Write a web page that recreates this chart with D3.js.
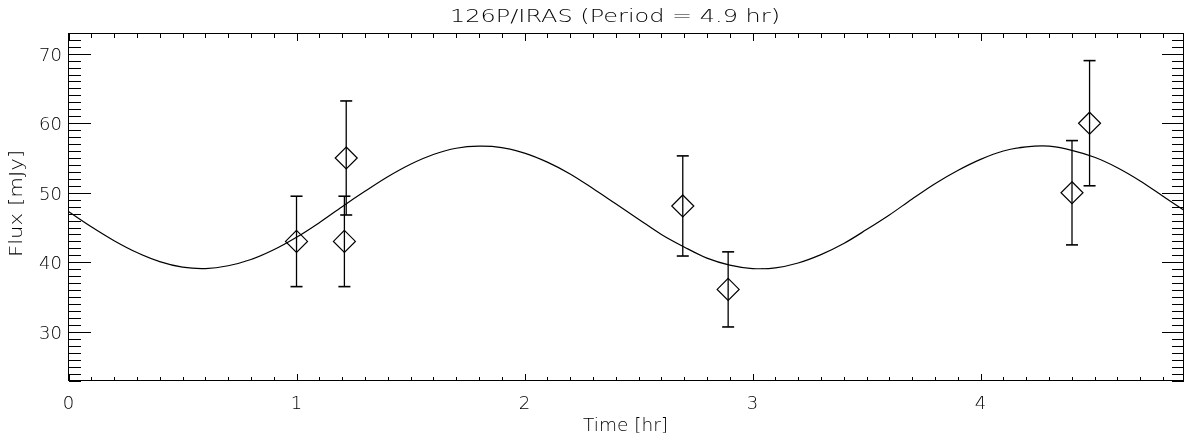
<!DOCTYPE html>
<html>
<head>
<meta charset="utf-8">
<script src="https://cdn.jsdelivr.net/npm/d3@7"></script>
<style>
  html, body { margin: 0; padding: 0; background: #fff; }
  svg { display: block; will-change: transform; }
  text { font-family: "DejaVu Sans", sans-serif; font-weight: 200; fill: #000; -webkit-font-smoothing: antialiased; }
</style>
</head>
<body>
<svg id="chart" width="1184" height="441"></svg>
<script>
// ---- data ----
const obsTime  = [1.0, 1.21, 1.218, 2.694, 2.893, 4.401, 4.478];
const obsFlux  = [43.0, 43.0, 55.0, 48.1, 36.1, 50.0, 60.0];
const obsErr   = [6.5, 6.5, 8.2, 7.2, 5.4, 7.5, 9.0];
const fitTime  = [0.0,0.1,0.2,0.3,0.4,0.5,0.6,0.7,0.8,0.9,1.0,1.1,1.2,1.3,1.4,1.5,1.6,1.7,1.8,1.9,
                  2.0,2.1,2.2,2.3,2.4,2.5,2.6,2.7,2.8,2.9,3.0,3.1,3.2,3.3,3.4,3.5,3.6,3.7,3.8,3.9,
                  4.0,4.1,4.2,4.3,4.4,4.5,4.6,4.7,4.8,4.9];
const fitFlux  = [47.3,45.1,43.1,41.4,40.1,39.3,39.1,39.5,40.4,41.8,43.6,45.7,48.0,50.2,52.3,54.1,55.5,56.4,56.7,56.5,
                  55.7,54.4,52.7,50.6,48.4,46.2,44.0,42.2,40.6,39.6,39.1,39.2,39.9,41.1,42.7,44.7,46.8,49.1,51.3,53.2,
                  54.8,56.0,56.6,56.7,56.1,55.1,53.6,51.7,49.5,47.3];
const xMajorTicks = [0, 1, 2, 3, 4];
const yMajorTicks = [30, 40, 50, 60, 70];
const titleText = "126P/IRAS (Period = 4.9 hr)";
const xLabel = "Time [hr]";
const yLabel = "Flux [mJy]";

// ---- layout ----
const L = 68.5, R = 1183.5, T = 33.5, B = 380.5;
const svg = d3.select("#chart");
const x = d3.scaleLinear().domain([0, 4.89]).range([L, R]);
const y = d3.scaleLinear().domain([23.0, 72.9]).range([B, T]);

const g = svg.append("g").attr("shape-rendering", "crispEdges");
// frame
g.append("rect").attr("x", L).attr("y", T).attr("width", R - L).attr("height", B - T)
  .attr("fill", "none").attr("stroke", "#000").attr("stroke-width", 1);

// x ticks (bottom & top)
const xMinor = d3.range(0, 49).map(i => i / 10).filter(v => v <= 4.89);
xMinor.forEach(v => {
  const isMajor = Math.abs(v - Math.round(v)) < 1e-9;
  const len = isMajor ? 7 : 4;
  const px = Math.round(x(v)) + 0.5;
  g.append("line").attr("x1", px).attr("x2", px).attr("y1", B).attr("y2", B - len).attr("stroke", "#000");
  g.append("line").attr("x1", px).attr("x2", px).attr("y1", T).attr("y2", T + len).attr("stroke", "#000");
});
// y ticks (left & right)
d3.range(23, 73).forEach(v => {
  const isMajor = v % 10 === 0;
  const len = isMajor ? 22 : 12;
  const py = Math.round(y(v)) + 0.5;
  g.append("line").attr("x1", L).attr("x2", L + len).attr("y1", py).attr("y2", py).attr("stroke", "#000");
  g.append("line").attr("x1", R).attr("x2", R - len).attr("y1", py).attr("y2", py).attr("stroke", "#000");
});

// tick labels
svg.selectAll(".xl").data(xMajorTicks).enter().append("text")
  .attr("x", d => x(d)).attr("y", 409).attr("text-anchor", "middle")
  .attr("font-size", 18).text(d => d);
svg.selectAll(".yl").data(yMajorTicks).enter().append("text")
  .attr("x", 62).attr("y", d => y(d) + 7).attr("text-anchor", "end")
  .attr("font-size", 18).text(d => d);

// titles
svg.append("text").attr("x", 450).attr("y", 22).attr("font-size", 18)
  .attr("textLength", 330).attr("lengthAdjust", "spacingAndGlyphs").text(titleText);
svg.append("text").attr("x", 583).attr("y", 431).attr("font-size", 17)
  .attr("textLength", 85).attr("lengthAdjust", "spacingAndGlyphs").text(xLabel);
svg.append("text").attr("transform", "translate(22,257) rotate(-90)").attr("font-size", 17)
  .attr("textLength", 107).attr("lengthAdjust", "spacingAndGlyphs").text(yLabel);

// clip
svg.append("clipPath").attr("id", "clip").append("rect")
  .attr("x", L).attr("y", T).attr("width", R - L).attr("height", B - T);

// fit curve
const line = d3.line().x((d, i) => x(fitTime[i])).y(d => y(d)).curve(d3.curveCatmullRom);
svg.append("path").attr("clip-path", "url(#clip)").datum(fitFlux).attr("d", line)
  .attr("fill", "none").attr("stroke", "#000").attr("stroke-width", 1.2);

// error bars
const pts = obsTime.map((t, i) => ({ t, f: obsFlux[i], e: obsErr[i] }));
const eb = svg.append("g").attr("stroke", "#000").attr("stroke-width", 1.3);
pts.forEach(p => {
  const px = x(p.t);
  eb.append("line").attr("x1", px).attr("x2", px).attr("y1", y(p.f - p.e)).attr("y2", y(p.f + p.e));
  eb.append("line").attr("x1", px - 6).attr("x2", px + 6).attr("y1", y(p.f + p.e)).attr("y2", y(p.f + p.e)).attr("stroke-width", 1.6);
  eb.append("line").attr("x1", px - 6).attr("x2", px + 6).attr("y1", y(p.f - p.e)).attr("y2", y(p.f - p.e)).attr("stroke-width", 1.6);
});
// diamonds
const s = 11;
svg.selectAll(".pt").data(pts).enter().append("path")
  .attr("d", d => {
    const px = x(d.t), py = y(d.f);
    return `M${px},${py - s}L${px + s},${py}L${px},${py + s}L${px - s},${py}Z`;
  })
  .attr("fill", "none").attr("stroke", "#000").attr("stroke-width", 1.2);
</script>
</body>
</html>
